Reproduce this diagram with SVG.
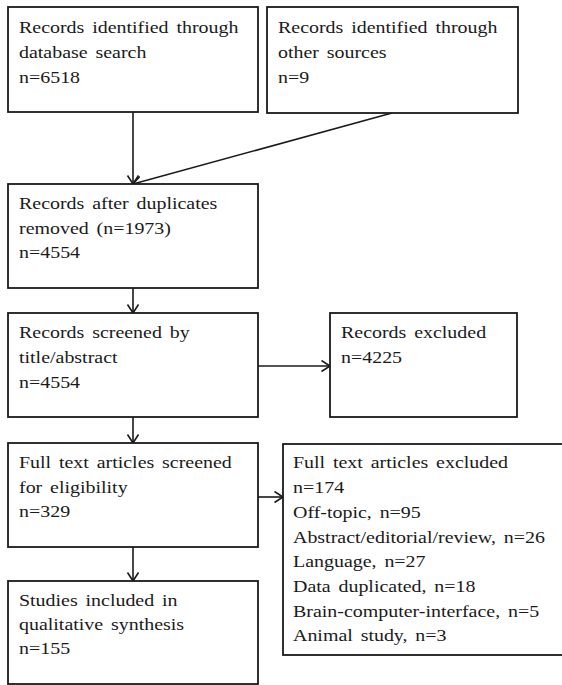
<svg xmlns="http://www.w3.org/2000/svg" width="562" height="685" viewBox="0 0 562 685">
<style>
.box{fill:#fff;stroke:#1a1a1a;stroke-width:1.8}
.t{font-family:"Liberation Serif","Times New Roman",serif;font-size:17.5px;fill:#1a1a1a;word-spacing:2.5px}
.c{fill:none;stroke:#1a1a1a;stroke-width:1.6}
</style>
<defs>
<marker id="ah" markerUnits="userSpaceOnUse" markerWidth="14" markerHeight="14" refX="9" refY="6" orient="auto">
<path d="M0.5,0.5 L9,6 L0.5,11.5" fill="none" stroke="#1a1a1a" stroke-width="1.6"/>
</marker>
</defs>
<rect width="562" height="685" fill="#fff"/>
<g id="connectors">
<line class="c" x1="133" y1="112" x2="133" y2="184" marker-end="url(#ah)"/>
<line class="c" x1="392" y1="113" x2="133" y2="184" marker-end="url(#ah)"/>
<line class="c" x1="133" y1="288" x2="133" y2="313" marker-end="url(#ah)"/>
<line class="c" x1="258" y1="366" x2="330" y2="366" marker-end="url(#ah)"/>
<line class="c" x1="133" y1="417" x2="133" y2="443" marker-end="url(#ah)"/>
<line class="c" x1="258" y1="497" x2="283" y2="497" marker-end="url(#ah)"/>
<line class="c" x1="133" y1="547" x2="133" y2="581" marker-end="url(#ah)"/>
</g>
<g id="db">
<rect class="box" x="8" y="7" width="250" height="105"/>
<g transform="translate(19,0) scale(1.14,1)">
<text class="t" x="0" y="33">Records identified through</text>
<text class="t" x="0" y="58">database search</text>
<text class="t" x="0" y="83">n=6518</text>
</g>
</g>
<g id="other">
<rect class="box" x="267" y="7" width="251" height="106"/>
<g transform="translate(278,0) scale(1.14,1)">
<text class="t" x="0" y="33">Records identified through</text>
<text class="t" x="0" y="58">other sources</text>
<text class="t" x="0" y="83">n=9</text>
</g>
</g>
<g id="dedup">
<rect class="box" x="8" y="184" width="250" height="104"/>
<g transform="translate(19,0) scale(1.14,1)">
<text class="t" x="0" y="209">Records after duplicates</text>
<text class="t" x="0" y="234">removed (n=1973)</text>
<text class="t" x="0" y="258">n=4554</text>
</g>
</g>
<g id="screened">
<rect class="box" x="8" y="313" width="250" height="104"/>
<g transform="translate(19,0) scale(1.14,1)">
<text class="t" x="0" y="338">Records screened by</text>
<text class="t" x="0" y="363">title/abstract</text>
<text class="t" x="0" y="388">n=4554</text>
</g>
</g>
<g id="excluded">
<rect class="box" x="330" y="313" width="187" height="104"/>
<g transform="translate(341,0) scale(1.14,1)">
<text class="t" x="0" y="338">Records excluded</text>
<text class="t" x="0" y="363">n=4225</text>
</g>
</g>
<g id="fulltext">
<rect class="box" x="8" y="443" width="250" height="104"/>
<g transform="translate(19,0) scale(1.14,1)">
<text class="t" x="0" y="468">Full text articles screened</text>
<text class="t" x="0" y="493">for eligibility</text>
<text class="t" x="0" y="517">n=329</text>
</g>
</g>
<g id="ftexcluded">
<rect class="box" x="283" y="444" width="300" height="211"/>
<g transform="translate(293,0) scale(1.14,1)">
<text class="t" x="0" y="468">Full text articles excluded</text>
<text class="t" x="0" y="493">n=174</text>
<text class="t" x="0" y="518">Off-topic, n=95</text>
<text class="t" x="0" y="543">Abstract/editorial/review, n=26</text>
<text class="t" x="0" y="567">Language, n=27</text>
<text class="t" x="0" y="592">Data duplicated, n=18</text>
<text class="t" x="0" y="617">Brain-computer-interface, n=5</text>
<text class="t" x="0" y="641">Animal study, n=3</text>
</g>
</g>
<g id="included">
<rect class="box" x="8" y="581" width="250" height="103"/>
<g transform="translate(19,0) scale(1.14,1)">
<text class="t" x="0" y="606">Studies included in</text>
<text class="t" x="0" y="630">qualitative synthesis</text>
<text class="t" x="0" y="654">n=155</text>
</g>
</g>
</svg>
